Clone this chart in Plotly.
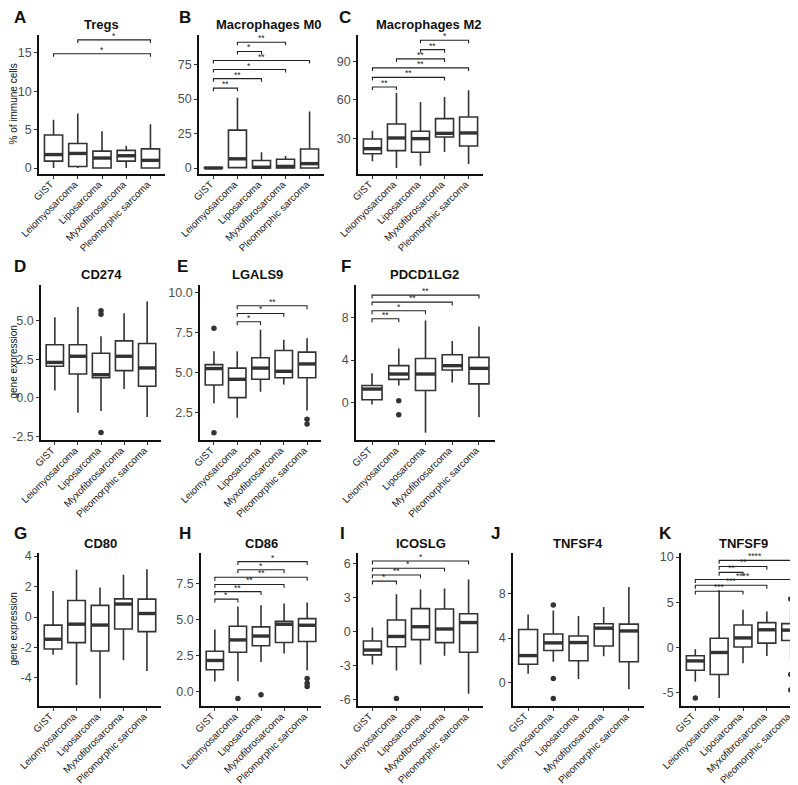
import plotly.graph_objects as go

categories = ["GIST", "Leiomyosarcoma", "Liposarcoma", "Myxofibrosarcoma", "Pleomorphic sarcoma"]

# ---- A: Tregs ----
tregs_low = [0, 0, 0, 0, 0]
tregs_q1 = [0.9, 0.2, 0.0, 0.9, 0.0]
tregs_med = [1.75, 1.9, 1.3, 1.6, 1.0]
tregs_q3 = [4.3, 3.2, 2.2, 2.3, 2.5]
tregs_up = [6.3, 7.1, 4.8, 2.9, 5.7]
tregs_out_x, tregs_out_y = [], []
tregs_sig = [(0, 4, 14.9, "*"), (1, 4, 16.7, "*")]

# ---- B: Macrophages M0 ----
m0_low = [0, 0, 0, 0, 0]
m0_q1 = [0, 0.3, 0, 0, 0]
m0_med = [0, 6.7, 0.6, 1.2, 3.2]
m0_q3 = [0.3, 27.5, 5.5, 6.4, 13.8]
m0_up = [0.5, 51, 11.5, 8.8, 41]
m0_out_x, m0_out_y = [], []
m0_sig = [(0, 1, 57.9, "**"), (0, 2, 64.8, "**"), (0, 3, 71.4, "*"),
          (0, 4, 77.9, "**"), (1, 2, 84.5, "*"), (1, 3, 91.2, "**")]

# ---- C: Macrophages M2 ----
m2_low = [12.4, 7.2, 9.0, 19.6, 10.3]
m2_q1 = [18.3, 20.7, 19.4, 31.3, 24.3]
m2_med = [22.2, 30.5, 30.0, 34.1, 34.4]
m2_q3 = [29.7, 41.3, 35.7, 45.5, 46.8]
m2_up = [36.2, 65.4, 58.4, 62.3, 67.4]
m2_out_x, m2_out_y = [], []
m2_sig = [(0, 1, 70, "**"), (0, 3, 77.5, "**"), (0, 4, 84.8, "**"),
          (1, 3, 91.8, "**"), (2, 3, 99, "**"), (2, 4, 106.2, "*")]

# ---- D: CD274 ----
cd274_low = [0.47, -0.97, -0.86, 0.58, -1.25]
cd274_q1 = [2.05, 1.55, 1.3, 1.77, 0.75]
cd274_med = [2.3, 2.7, 1.5, 2.7, 1.94]
cd274_q3 = [3.45, 3.45, 2.9, 3.7, 3.53]
cd274_up = [5.24, 5.9, 4.0, 5.5, 6.25]
cd274_out_x, cd274_out_y = [2, 2, 2], [5.65, 5.43, -2.26]
cd274_sig = []

# ---- E: LGALS9 ----
lgals9_low = [3.1, 2.2, 3.82, 4.28, 2.65]
lgals9_q1 = [4.24, 3.45, 4.6, 4.7, 4.7]
lgals9_med = [5.27, 4.6, 5.3, 5.1, 5.56]
lgals9_q3 = [5.52, 5.3, 5.95, 6.4, 6.3]
lgals9_up = [6.35, 6.35, 7.7, 7.08, 7.17]
lgals9_out_x, lgals9_out_y = [0, 0, 4, 4], [7.8, 1.25, 2.1, 1.8]
lgals9_sig = [(1, 2, 8.2, "*"), (1, 3, 8.72, "*"), (1, 4, 9.2, "**")]

# ---- F: PDCD1LG2 ----
pdcd_low = [-0.15, 1.63, -2.77, 1.9, -1.32]
pdcd_q1 = [0.3, 2.2, 1.17, 3.08, 1.78]
pdcd_med = [1.3, 2.7, 2.7, 3.48, 3.23]
pdcd_q3 = [1.63, 3.48, 4.15, 4.5, 4.25]
pdcd_up = [2.77, 5.08, 7.7, 5.78, 7.14]
pdcd_out_x, pdcd_out_y = [1, 1], [0.2, -1.1]
pdcd_sig = [(0, 1, 7.85, "**"), (0, 2, 8.6, "*"), (0, 3, 9.4, "**"), (0, 4, 10.06, "**")]

# ---- G: CD80 ----
cd80_low = [-2.48, -4.46, -5.35, -2.84, -3.55]
cd80_q1 = [-2.1, -1.68, -2.23, -0.79, -0.96]
cd80_med = [-1.46, -0.47, -0.53, 0.85, 0.23]
cd80_q3 = [-0.53, 1.08, 0.76, 1.19, 1.17]
cd80_up = [1.7, 3.1, 1.93, 2.78, 3.14]
cd80_out_x, cd80_out_y = [], []
cd80_sig = []

# ---- H: CD86 ----
cd86_low = [0.68, 0.7, 2.04, 2.63, 1.47]
cd86_q1 = [1.5, 2.72, 3.17, 3.4, 3.47]
cd86_med = [2.15, 3.58, 3.85, 4.67, 4.6]
cd86_q3 = [2.79, 4.53, 4.49, 4.87, 5.06]
cd86_up = [4.3, 5.9, 6.0, 6.12, 6.19]
cd86_out_x, cd86_out_y = [1, 2, 4, 4, 4], [-0.5, -0.23, 0.9, 0.57, 0.34]
cd86_sig = [(0, 1, 6.42, "*"), (0, 2, 6.94, "**"), (0, 3, 7.44, "**"),
            (0, 4, 7.94, "**"), (1, 3, 8.46, "*"), (1, 4, 9.03, "*")]

# ---- I: ICOSLG ----
icoslg_low = [-2.9, -3.43, -2.91, -2.14, -5.49]
icoslg_q1 = [-2.06, -1.34, -0.71, -0.97, -1.83]
icoslg_med = [-1.63, -0.43, 0.43, 0.23, 0.8]
icoslg_q3 = [-0.83, 1.03, 2.03, 2.0, 1.57]
icoslg_up = [0.37, 3.29, 3.71, 3.8, 4.6]
icoslg_out_x, icoslg_out_y = [1], [-5.9]
icoslg_sig = [(0, 1, 4.46, "*"), (0, 2, 5.0, "**"), (0, 3, 5.6, "*"), (0, 4, 6.23, "*")]

# ---- J: TNFSF4 ----
tnfsf4_low = [0.78, 1.86, 0.31, 2.36, -0.62]
tnfsf4_q1 = [1.64, 2.88, 1.95, 3.29, 1.86]
tnfsf4_med = [2.42, 3.57, 3.6, 4.9, 4.65]
tnfsf4_q3 = [4.78, 4.37, 4.19, 5.3, 5.27]
tnfsf4_up = [6.14, 6.5, 6.0, 6.82, 8.62]
tnfsf4_out_x, tnfsf4_out_y = [1, 1, 1], [7.0, 0.34, -1.46]
tnfsf4_sig = []

# ---- K: TNFSF9 ----
tnfsf9_low = [-3.76, -5.58, -1.72, -0.93, -1.18]
tnfsf9_q1 = [-2.5, -2.97, 0.07, 0.5, 0.79]
tnfsf9_med = [-1.47, -0.54, 1.07, 1.97, 1.93]
tnfsf9_q3 = [-0.9, 1.04, 2.5, 2.76, 2.65]
tnfsf9_up = [-0.18, 6.34, 4.19, 4.0, 4.55]
tnfsf9_out_x, tnfsf9_out_y = [0, 4, 4, 4], [-5.58, 5.37, -2.97, -4.69]
tnfsf9_sig = [(0, 2, 6.23, "***"), (0, 3, 6.88, "***"), (0, 4, 7.52, "****"),
              (1, 2, 8.31, "**"), (1, 3, 8.96, "**"), (1, 4, 9.64, "****")]

W, H = 798, 785
FONT = "Liberation Sans, Arial, sans-serif"
DARK = "#333333"
R3 = (545, 698)

panels = [
    dict(letter="A", title="Tregs", s=(tregs_low, tregs_q1, tregs_med, tregs_q3, tregs_up),
         out=(tregs_out_x, tregs_out_y), sig=tregs_sig,
         px=(31, 157), py=(27, 166), yr=(-0.78, 17.34),
         tv=[0, 5, 10, 15], tt=["0", "5", "10", "15"],
         tpos=(93, 17), lpos=(12, 10), ytitle="% of immune cells"),
    dict(letter="B", title="Macrophages M0", s=(m0_low, m0_q1, m0_med, m0_q3, m0_up),
         out=(m0_out_x, m0_out_y), sig=m0_sig,
         px=(191, 316), py=(27, 166), yr=(-4.3, 96.4),
         tv=[0, 25, 50, 75], tt=["0", "25", "50", "75"],
         tpos=(260, 17), lpos=(177, 10), ytitle=None),
    dict(letter="C", title="Macrophages M2", s=(m2_low, m2_q1, m2_med, m2_q3, m2_up),
         out=(m2_out_x, m2_out_y), sig=m2_sig,
         px=(350, 475), py=(27, 166), yr=(2.6, 110.3),
         tv=[30, 60, 90], tt=["30", "60", "90"],
         tpos=(420, 17), lpos=(337, 10), ytitle=None),
    dict(letter="D", title="CD274", s=(cd274_low, cd274_q1, cd274_med, cd274_q3, cd274_up),
         out=(cd274_out_x, cd274_out_y), sig=cd274_sig,
         px=(33, 153), py=(277, 432), yr=(-2.74, 7.33),
         tv=[-2.5, 0, 2.5, 5], tt=["-2.5", "0.0", "2.5", "5.0"],
         tpos=(93, 267), lpos=(12, 259), ytitle="gene expression"),
    dict(letter="E", title="LGALS9", s=(lgals9_low, lgals9_q1, lgals9_med, lgals9_q3, lgals9_up),
         out=(lgals9_out_x, lgals9_out_y), sig=lgals9_sig,
         px=(192, 313), py=(277, 432), yr=(0.8, 10.5),
         tv=[2.5, 5, 7.5, 10], tt=["2.5", "5.0", "7.5", "10.0"],
         tpos=(249, 267), lpos=(174, 259), ytitle=None),
    dict(letter="F", title="PDCD1LG2", s=(pdcd_low, pdcd_q1, pdcd_med, pdcd_q3, pdcd_up),
         out=(pdcd_out_x, pdcd_out_y), sig=pdcd_sig,
         px=(348, 487), py=(277, 432), yr=(-3.45, 11.0),
         tv=[0, 4, 8], tt=["0", "4", "8"],
         tpos=(416, 267), lpos=(338, 259), ytitle=None),
    dict(letter="G", title="CD80", s=(cd80_low, cd80_q1, cd80_med, cd80_q3, cd80_up),
         out=(cd80_out_x, cd80_out_y), sig=cd80_sig,
         px=(31, 153), py=R3, yr=(-5.84, 4.2),
         tv=[-4, -2, 0, 2, 4], tt=["-4", "-2", "0", "2", "4"],
         tpos=(92, 535), lpos=(12, 525), ytitle="gene expression"),
    dict(letter="H", title="CD86", s=(cd86_low, cd86_q1, cd86_med, cd86_q3, cd86_up),
         out=(cd86_out_x, cd86_out_y), sig=cd86_sig,
         px=(193, 313), py=R3, yr=(-1.02, 9.63),
         tv=[0, 2.5, 5, 7.5], tt=["0.0", "2.5", "5.0", "7.5"],
         tpos=(253, 535), lpos=(177, 525), ytitle=None),
    dict(letter="I", title="ICOSLG", s=(icoslg_low, icoslg_q1, icoslg_med, icoslg_q3, icoslg_up),
         out=(icoslg_out_x, icoslg_out_y), sig=icoslg_sig,
         px=(350, 475), py=R3, yr=(-6.57, 6.94),
         tv=[-6, -3, 0, 3, 6], tt=["-6", "-3", "0", "3", "6"],
         tpos=(413, 535), lpos=(334, 525), ytitle=None),
    dict(letter="J", title="TNFSF4", s=(tnfsf4_low, tnfsf4_q1, tnfsf4_med, tnfsf4_q3, tnfsf4_up),
         out=(tnfsf4_out_x, tnfsf4_out_y), sig=tnfsf4_sig,
         px=(505, 636), py=R3, yr=(-2.14, 11.7),
         tv=[0, 4, 8], tt=["0", "4", "8"],
         tpos=(570, 535), lpos=(487, 525), ytitle=None),
    dict(letter="K", title="TNFSF9", s=(tnfsf9_low, tnfsf9_q1, tnfsf9_med, tnfsf9_q3, tnfsf9_up),
         out=(tnfsf9_out_x, tnfsf9_out_y), sig=tnfsf9_sig,
         px=(673, 797), py=R3, yr=(-6.45, 10.45),
         tv=[-5, 0, 5, 10], tt=["-5", "0", "5", "10"],
         tpos=(735, 535), lpos=(657, 525), ytitle=None),
]

fig = go.Figure()
annotations = []
layout_axes = {}
BW = 0.75
idx = list(range(len(categories)))

for n, p in enumerate(panels, start=1):
    xa = "x" if n == 1 else f"x{n}"
    ya = "y" if n == 1 else f"y{n}"
    low, q1, med, q3, up = p["s"]
    fig.add_trace(go.Box(
        x=idx, q1=q1, median=med, q3=q3, lowerfence=low, upperfence=up,
        width=BW, whiskerwidth=0, fillcolor="white", boxpoints=False,
        line=dict(color=DARK, width=1.6), xaxis=xa, yaxis=ya,
        showlegend=False, hoverinfo="skip"))
    mx, my = [], []
    for i, m in zip(idx, med):
        mx += [i - BW / 2, i + BW / 2, None]
        my += [m, m, None]
    fig.add_trace(go.Scatter(x=mx, y=my, mode="lines", line=dict(color=DARK, width=3.4),
                             xaxis=xa, yaxis=ya, showlegend=False, hoverinfo="skip"))
    ox, oy = p["out"]
    if ox:
        fig.add_trace(go.Scatter(x=ox, y=oy, mode="markers",
                                 marker=dict(color=DARK, size=5.5),
                                 xaxis=xa, yaxis=ya, showlegend=False, hoverinfo="skip"))
    yr = p["yr"]
    tip = 0.022 * (yr[1] - yr[0])
    for (i1, i2, h, lab) in p["sig"]:
        fig.add_trace(go.Scatter(x=[i1, i1, i2, i2], y=[h - tip, h, h, h - tip], mode="lines",
                                 line=dict(color="#222222", width=1.1),
                                 xaxis=xa, yaxis=ya, showlegend=False, hoverinfo="skip"))
        annotations.append(dict(x=(i1 + i2) / 2, y=h, xref=xa, yref=ya, text=lab,
                                showarrow=False, yanchor="bottom", yshift=-3,
                                font=dict(family=FONT, size=8.5, color="#222222")))
    x0, x1 = p["px"]
    y0, y1 = p["py"]
    layout_axes["xaxis" if n == 1 else f"xaxis{n}"] = dict(
        domain=[x0 / W, x1 / W], anchor=ya, range=[-0.6, 4.6], automargin=False,
        tickvals=idx, ticktext=categories, tickangle=-45,
        ticklabelstandoff=-4, ticklabelshift=-3,
        tickfont=dict(family=FONT, size=9.8, color="#1a1a1a"),
        showline=True, linecolor="#111111", linewidth=1.6,
        ticks="outside", ticklen=3, tickwidth=1.2, tickcolor="#333333",
        showgrid=False, zeroline=False, fixedrange=True)
    layout_axes["yaxis" if n == 1 else f"yaxis{n}"] = dict(
        domain=[1 - y1 / H, 1 - y0 / H], anchor=xa, range=list(yr), automargin=False,
        tickvals=p["tv"], ticktext=p["tt"],
        tickfont=dict(family=FONT, size=12.5, color="#4d4d4d"),
        showline=True, linecolor="#111111", linewidth=1.6,
        ticks="outside", ticklen=3, tickwidth=1.2, tickcolor="#333333",
        showgrid=False, zeroline=False, fixedrange=True)
    tx, ty = p["tpos"]
    annotations.append(dict(x=tx / W, y=1 - ty / H, xref="paper", yref="paper",
                            text="<b>" + p["title"] + "</b>", showarrow=False,
                            xanchor="center", yanchor="middle",
                            font=dict(family=FONT, size=13, color="#111111")))
    lx, ly = p["lpos"]
    annotations.append(dict(x=lx / W, y=1 - ly / H, xref="paper", yref="paper",
                            text="<b>" + p["letter"] + "</b>", showarrow=False,
                            xanchor="center", yanchor="middle",
                            font=dict(family=FONT, size=17, color="#111111")))
    if p["ytitle"]:
        annotations.append(dict(x=5 / W, y=1 - ((y0 + y1) / 2) / H, xref="paper", yref="paper",
                                text=p["ytitle"], showarrow=False, textangle=-90,
                                xanchor="center", yanchor="middle",
                                font=dict(family=FONT, size=10, color="#111111")))

fig.update_layout(
    template="none",
    width=W, height=H, margin=dict(l=0, r=0, t=0, b=0, autoexpand=False),
    paper_bgcolor="white", plot_bgcolor="white",
    showlegend=False, annotations=annotations, **layout_axes)

fig.write_html("out.html")
